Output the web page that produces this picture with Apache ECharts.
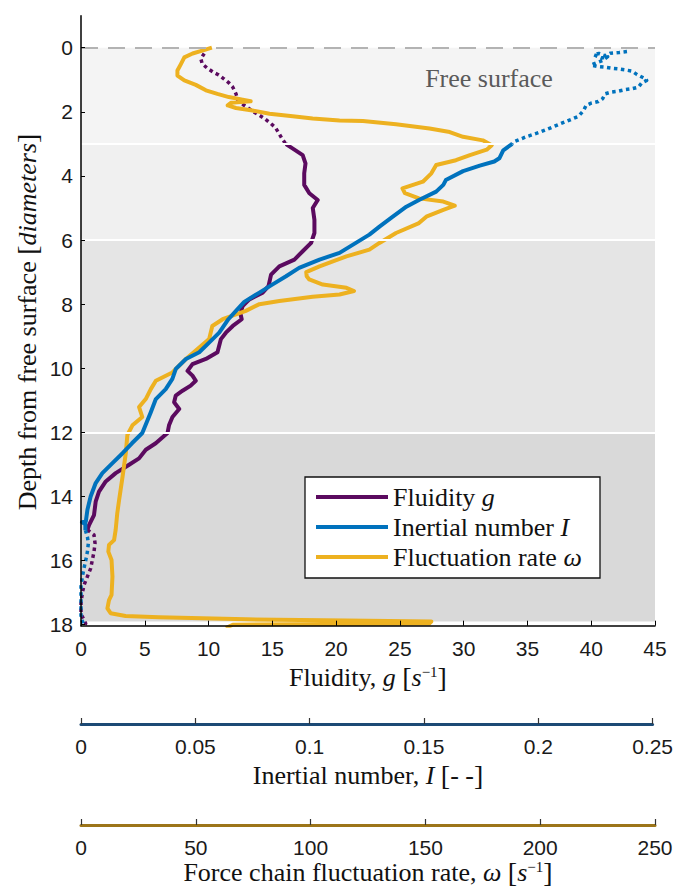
<!DOCTYPE html>
<html>
<head>
<meta charset="utf-8">
<script src="https://cdn.jsdelivr.net/npm/echarts@6/dist/echarts.min.js"></script>
<style>html,body{margin:0;padding:0;background:#fff}#c{width:676px;height:888px}</style>
</head>
<body>
<div id="c"></div>
<script>
// ---------- data: [depth (diameters), value] ----------
// Fluidity g [s^-1]
const fluidityUpper = [[0.18,9.66],[0.35,9.4],[0.5,9.5],[0.64,9.9],[0.77,10.4],[0.85,10.8],[0.97,11.2],[1.1,11.6],[1.23,11.9],[1.44,12.15],[1.64,12.3],[1.77,12.7],[1.87,13.06],[1.99,13.5],[2.11,14.0],[2.23,14.45],[2.35,14.84],[2.49,15.24],[2.66,15.5],[2.84,15.76],[3.01,16.07]];
const fluidityMain = [[3.01,16.07],[3.18,16.73],[3.35,17.38],[3.61,17.6],[3.92,17.5],[4.28,17.5],[4.54,17.9],[4.75,18.56],[5.0,18.17],[5.37,18.3],[5.78,18.3],[6.09,18.04],[6.35,17.38],[6.61,16.73],[6.82,15.55],[7.08,14.9],[7.44,14.7],[7.64,14.24],[7.85,13.2],[8.06,12.67],[8.3,12.5],[8.47,12.6],[8.68,11.9],[8.89,11.36],[9.09,10.97],[9.5,10.7],[9.71,9.79],[9.87,8.74],[10.08,8.35],[10.23,8.74],[10.39,9.0],[10.54,8.6],[10.7,7.96],[10.85,7.43],[11.06,7.3],[11.27,7.7],[11.52,7.17],[11.78,6.9],[12.02,6.78],[12.34,5.86],[12.54,5.08],[12.81,4.55],[13.01,3.77],[13.27,2.72],[13.53,1.94],[13.85,1.41],[14.16,1.15],[14.58,1.02],[14.89,0.63],[15.04,0.5]];
const fluidityLower = [[15.04,0.5],[15.2,1.02],[15.46,1.1],[15.72,1.02],[15.98,0.89],[16.24,0.76],[16.5,0.5],[16.76,0.24],[17.02,0.1],[17.33,0.0],[17.66,0.0],[17.96,0.37],[18.03,0.3]];
// Inertial number I [-]
const inertialUpper = [[0.12,0.2378],[0.15,0.2344],[0.17,0.2306],[0.25,0.2283],[0.18,0.2256],[0.22,0.2233],[0.32,0.2267],[0.28,0.2294],[0.40,0.2272],[0.49,0.2239],[0.54,0.2222],[0.59,0.2253],[0.61,0.2283],[0.64,0.2311],[0.66,0.2339],[0.69,0.2367],[0.73,0.2400],[0.84,0.2422],[0.94,0.2450],[1.02,0.2464],[1.10,0.2442],[1.23,0.2428],[1.28,0.2400],[1.31,0.2369],[1.36,0.2339],[1.39,0.2306],[1.44,0.2283],[1.59,0.2272],[1.68,0.2253],[1.73,0.2222],[1.80,0.2200],[1.96,0.2189],[2.14,0.2167],[2.21,0.2144],[2.29,0.2117],[2.37,0.2089],[2.47,0.2056],[2.63,0.2000],[2.78,0.1939],[2.94,0.1883],[3.00,0.1878]];
const inertialMain = [[3.00,0.1878],[3.2,0.1839],[3.45,0.1822],[3.55,0.1800],[3.68,0.1737],[3.85,0.1664],[4.13,0.1589],[4.28,0.1578],[4.49,0.1547],[4.75,0.1472],[4.96,0.1417],[5.27,0.1358],[5.58,0.1300],[5.83,0.1256],[6.15,0.1183],[6.40,0.1126],[6.61,0.1039],[6.87,0.0950],[7.13,0.0893],[7.39,0.0833],[7.64,0.0777],[7.93,0.0711],[8.21,0.0675],[8.47,0.0642],[8.89,0.0602],[9.20,0.0558],[9.50,0.0515],[9.71,0.0457],[10.02,0.0413],[10.33,0.0398],[10.65,0.0369],[10.96,0.0326],[11.37,0.0304],[12.02,0.0267],[12.34,0.0222],[12.65,0.0181],[12.96,0.0137],[13.27,0.0093],[13.58,0.0064],[14.00,0.0042],[14.41,0.0028],[14.78,0.0021],[14.80,0.0004],[14.86,0.0019],[15.05,0.0019]];
const inertialLower = [[15.05,0.0019],[15.26,0.0028],[15.46,0.0032],[15.72,0.0028],[15.98,0.0021],[16.24,0.0013],[16.50,0.0006],[16.81,0.0],[17.16,0.0],[17.80,0.0],[18.01,0.0014]];
// Force chain fluctuation rate omega [s^-1]
const fluctuation = [[0.00,57.0],[0.09,52.8],[0.18,48.6],[0.30,45.0],[0.51,43.5],[0.71,42.0],[0.87,42.0],[1.02,45.0],[1.16,50.0],[1.33,54.4],[1.44,59.4],[1.54,64.4],[1.62,70.4],[1.67,73.9],[1.72,65.3],[1.80,63.9],[1.88,67.5],[1.96,74.7],[2.06,82.1],[2.14,92.2],[2.21,100.9],[2.27,112.6],[2.29,122.8],[2.39,137.2],[2.52,151.8],[2.63,160.6],[2.78,166.4],[2.89,175.0],[3.04,178.9],[3.18,176.7],[3.35,169.4],[3.51,163.3],[3.66,154.7],[3.92,152.6],[4.18,148.9],[4.39,140.0],[4.54,141.1],[4.70,147.2],[4.80,157.8],[4.93,162.8],[5.06,157.8],[5.27,150.4],[5.47,147.2],[5.78,137.2],[6.09,130.0],[6.30,125.6],[6.51,115.6],[6.66,110.0],[6.82,103.9],[7.00,98.1],[7.13,98.3],[7.23,99.4],[7.39,105.3],[7.49,115.6],[7.59,118.9],[7.70,112.6],[7.77,100.9],[7.90,86.4],[8.00,77.7],[8.21,71.8],[8.47,61.7],[8.68,57.2],[9.09,55.8],[9.35,51.5],[9.71,45.7],[10.13,39.8],[10.39,32.6],[10.65,30.4],[10.96,28.2],[11.21,25.3],[11.52,26.7],[11.78,22.4],[12.08,20.2],[12.65,19.5],[13.38,18.1],[14.11,16.6],[14.52,15.8],[15.04,15.1],[15.36,14.4],[15.51,12.2],[15.72,11.9],[15.98,13.3],[16.50,13.7],[17.07,13.3],[17.23,12.2],[17.49,11.5],[17.64,12.9],[17.73,19.4],[17.77,33.9],[17.83,71.8],[17.87,115.6],[17.90,152.6],[17.96,151.7],[17.98,112.2],[18.00,66.1],[18.10,63.1]];

// depth bands [from, to]
const bandRanges = [[0,3],[3,6],[6,12],[12,17.9]];
const bandSeparators = [3,6,12];
const freeSurfaceDepth = 0;
// tick labels
const depthTicks = [0,2,4,6,8,10,12,14,16,18];

// ---------- styling ----------
const serif = 'Liberation Serif';
const sans = 'Liberation Sans';
const FS = 26;
const bandColors = ['#f4f4f4','#f0f0f0','#e5e5e5','#d9d9d9'];
const cPurple = '#5b0a5f', cBlue = '#0072bd', cOrange = '#edb120';
const richLegend = {
  i: {fontFamily: serif, fontStyle: 'italic', fontSize: FS, lineHeight: 30}
};
const richName = {
  i: {fontFamily: serif, fontStyle: 'italic', fontSize: FS, lineHeight: 24},
  sup: {fontFamily: serif, fontSize: 15, lineHeight: 14, padding: [0,0,10,0]},
  br: {fontFamily: serif, fontSize: 28, lineHeight: 24}
};
const toXY = arr => arr.map(p => [p[1], p[0]]);

function lineSeries(name, data, color, xIdx, dotted, z) {
  return {
    type: 'line', name, data: toXY(data), xAxisIndex: xIdx, yAxisIndex: 0,
    showSymbol: false, symbol: 'none', silent: true, z,
    itemStyle: {color}, color,
    lineStyle: {color, width: dotted ? 3.5 : 4, type: dotted ? [3.5, 3.5] : 'solid', cap: 'butt', join: 'round'}
  };
}
function nameText(text, x, y, rotation) {
  return {type: 'text', x, y, rotation: rotation || 0, z: 50,
    style: {text, fontFamily: serif, fontSize: FS, lineHeight: 24, fill: '#111', align: 'center', verticalAlign: 'middle', rich: richName}};
}

const chart = echarts.init(document.getElementById('c'), null, {renderer: 'svg'});
const legendLabels = {
  'Fluidity g': 'Fluidity {i|g}',
  'Inertial number I': 'Inertial number {i|I}',
  'Fluctuation rate ω': 'Fluctuation rate {i|ω}'
};
const labelStyle = {fontFamily: sans, fontSize: 21, color: '#1a1a1a'};

chart.setOption({
  animation: false,
  backgroundColor: '#fff',
  grid: [
    {left: 81, right: 21, top: 15.64, bottom: 262.3},
    {left: 81, right: 21, top: 690, height: 34},
    {left: 81, right: 21, top: 790, height: 35}
  ],
  xAxis: [
    {type: 'value', gridIndex: 0, min: 0, max: 45, interval: 5, z: 10,
     axisLine: {show: true, onZero: false, lineStyle: {color: '#000', width: 1.5}},
     axisTick: {show: true, inside: true, length: 5, lineStyle: {color: '#000', width: 1}},
     axisLabel: Object.assign({margin: 12}, labelStyle), splitLine: {show: false}},
    {type: 'value', gridIndex: 0, min: 0, max: 0.25, show: false, splitLine: {show: false}},
    {type: 'value', gridIndex: 0, min: 0, max: 250, show: false, splitLine: {show: false}},
    {type: 'value', gridIndex: 1, min: 0, max: 0.25, interval: 0.05,
     axisLine: {show: true, onZero: false, lineStyle: {color: '#1c4a75', width: 3}},
     axisTick: {show: true, inside: true, length: 6, lineStyle: {color: '#333', width: 1.2}},
     axisLabel: Object.assign({margin: 12}, labelStyle), splitLine: {show: false}},
    {type: 'value', gridIndex: 2, min: 0, max: 250, interval: 50,
     axisLine: {show: true, onZero: false, lineStyle: {color: '#9c7519', width: 3}},
     axisTick: {show: true, inside: true, length: 6, lineStyle: {color: '#333', width: 1.2}},
     axisLabel: Object.assign({margin: 12}, labelStyle), splitLine: {show: false}}
  ],
  yAxis: [
    {type: 'value', gridIndex: 0, inverse: true, min: -1, max: 18.03, z: 10,
     axisLine: {show: true, onZero: false, lineStyle: {color: '#000', width: 1.5}},
     axisTick: {show: true, inside: true, length: 4, customValues: depthTicks, lineStyle: {color: '#000', width: 1}},
     axisLabel: Object.assign({margin: 8, customValues: depthTicks, padding: [6,0,0,0]}, labelStyle),
     splitLine: {show: false}},
    {type: 'value', gridIndex: 1, show: false, min: 0, max: 1},
    {type: 'value', gridIndex: 2, show: false, min: 0, max: 1}
  ],
  legend: {
    data: ['Fluidity g', 'Inertial number I', 'Fluctuation rate ω'],
    orient: 'vertical', left: 305, top: 477, selectedMode: false,
    padding: [5, 7, 6, 11], itemWidth: 72, itemHeight: 4, itemGap: 0, itemTextGap: 5, icon: 'rect',
    backgroundColor: '#fff', borderColor: '#111', borderWidth: 1.3,
    textStyle: {fontFamily: serif, fontSize: FS, color: '#111', lineHeight: 30, width: 200, rich: richLegend},
    formatter: name => legendLabels[name]
  },
  graphic: [
    {type: 'text', x: 489, y: 78, z: 50, style: {text: 'Free surface', fontFamily: serif, fontSize: FS, fill: '#5a5a5a', align: 'center', verticalAlign: 'middle'}},
    nameText('Fluidity, {i|g} {br|[}{i|s}{sup|−1}{br|]}', 368, 677),
    nameText('Inertial number, {i|I} {br|[}- -{br|]}', 368, 775),
    nameText('Force chain fluctuation rate, {i|ω} {br|[}{i|s}{sup|−1}{br|]}', 368, 872),
    nameText('Depth from free surface {br|[}{i|diameters}{br|]}', 27, 322, Math.PI / 2)
  ],
  series: [
    {type: 'line', name: 'bands', data: [], xAxisIndex: 0, yAxisIndex: 0, silent: true, z: 1,
     markArea: {silent: true, z: 1, data: bandRanges.map((r, i) => [{yAxis: r[0], itemStyle: {color: bandColors[i]}}, {yAxis: r[1]}])},
     markLine: {silent: true, symbol: 'none', label: {show: false}, animation: false,
       data: bandSeparators.map(v => ({yAxis: v, lineStyle: {color: '#fff', width: 2, type: 'solid'}}))
         .concat([{yAxis: freeSurfaceDepth, lineStyle: {color: '#b3b3b3', width: 2, type: [17, 10]}}])}},
    lineSeries('Fluidity g (upper)', fluidityUpper, cPurple, 0, true, 3),
    lineSeries('Fluidity g', fluidityMain, cPurple, 0, false, 3),
    lineSeries('Fluidity g (lower)', fluidityLower, cPurple, 0, true, 3),
    lineSeries('Fluctuation rate ω', fluctuation, cOrange, 2, false, 4),
    lineSeries('Inertial number I (upper)', inertialUpper, cBlue, 1, true, 5),
    lineSeries('Inertial number I', inertialMain, cBlue, 1, false, 5),
    lineSeries('Inertial number I (lower)', inertialLower, cBlue, 1, true, 5)
  ]
});
</script>
</body>
</html>
